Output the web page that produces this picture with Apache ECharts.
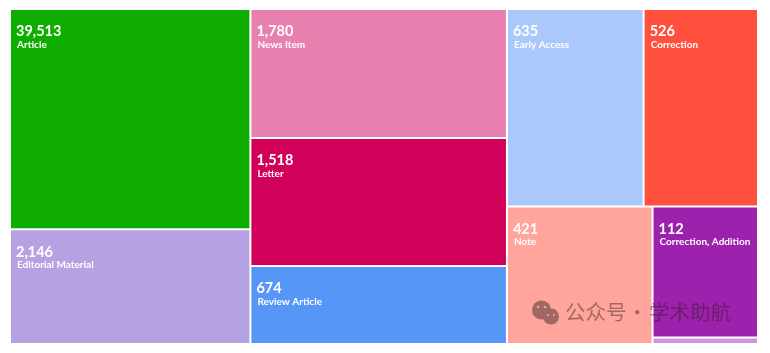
<!DOCTYPE html>
<html>
<head>
<meta charset="utf-8">
<script src="https://cdn.jsdelivr.net/npm/echarts@6/dist/echarts.min.js"></script>
<style>
html,body{margin:0;padding:0;background:#fff;overflow:hidden}
#clip{width:770px;height:343px;overflow:hidden;position:relative}
#chart{width:770px;height:420px}
</style>
</head>
<body>
<div id="clip"><div id="chart"></div></div>
<script>
const names = ['Article','Editorial Material','News Item','Letter','Review Article','Early Access','Correction','Note','Correction, Addition',''];
const counts = [39513,2146,1780,1518,674,635,526,421,112,null];
// Tile areas (they are not proportional to the counts)
const tileAreas = [51690,40270,32300,32040,33800,26330,22030,27650,13500,6530];
const colors = ['#0FAD00','#B6A2E2','#E780AE','#D10058','#5596F6','#AAC9FA','#FF503E','#FFA59C','#9C21AD','#CF97DB'];

function leaf(i){
  return {
    name: names[i],
    value: [tileAreas[i], counts[i]],
    itemStyle: {color: colors[i], borderWidth: 0}
  };
}
const tree = [
  {name:'c1', children:[leaf(0),leaf(1)]},
  {name:'c2', children:[leaf(2),{name:'c2b', children:[leaf(3),leaf(4)]}]},
  {name:'c3', children:[
    {name:'r1', children:[leaf(5),leaf(6)]},
    {name:'r2', children:[leaf(7),{name:'c4', children:[leaf(8),leaf(9)]}]}
  ]}
];
const chart = echarts.init(document.getElementById('chart'), null, {renderer:'canvas'});
const inkColor = 'rgba(50,30,30,0.46)';
const iconColor = '#A16762';
const eyeColor = '#E8A79F';
const wmFont = '400 20.5px "Noto Sans CJK SC"';
chart.setOption({
  animation:false,
  tooltip:{show:false},
  series:[{
    type:'treemap',
    left:11, top:10, width:746, height:390,
    sort:false,
    roam:false, nodeClick:false,
    breadcrumb:{show:false},
    squareRatio:1,
    visibleMin:0, childrenVisibleMin:0,
    itemStyle:{gapWidth:2, borderWidth:0, borderColor:'#fff'},
    upperLabel:{show:false},
    label:{
      show:true,
      position:[0,9],
      overflow:'none',
      formatter:p=>{
        const c = Array.isArray(p.value) ? p.value[1] : null;
        if (c === null || c === undefined) return '';
        return `{v|${c.toLocaleString('en-US')}}\n{n|${p.name}}`;
      },
      rich:{
        v:{fontFamily:'Lato',fontSize:14.5,fontWeight:700,color:'#fff',lineHeight:15},
        n:{fontFamily:'Lato',fontSize:10,fontWeight:700,color:'#fff',lineHeight:11,padding:[0,0,0,1]}
      }
    },
    data:tree
  }],
  graphic:[
    {type:'circle',z:100,shape:{cx:541.5,cy:310,r:9.5},style:{fill:iconColor}},
    {type:'circle',z:100,shape:{cx:551,cy:316.5,r:8},style:{fill:iconColor}},
    {type:'circle',z:101,shape:{cx:538,cy:307,r:1.3},style:{fill:eyeColor}},
    {type:'circle',z:101,shape:{cx:545,cy:307,r:1.3},style:{fill:eyeColor}},
    {type:'circle',z:101,shape:{cx:548,cy:315,r:1.1},style:{fill:eyeColor}},
    {type:'circle',z:101,shape:{cx:554,cy:315,r:1.1},style:{fill:eyeColor}},
    {type:'text',z:100,x:565,y:312.5,style:{text:'公众号',fill:inkColor,font:wmFont,textVerticalAlign:'middle'}},
    {type:'text',z:100,x:627,y:312.5,style:{text:'·',fill:inkColor,font:wmFont,textVerticalAlign:'middle'}},
    {type:'text',z:100,x:649,y:312.5,style:{text:'学术助航',fill:inkColor,font:wmFont,textVerticalAlign:'middle'}}
  ]
});
</script>
</body>
</html>
